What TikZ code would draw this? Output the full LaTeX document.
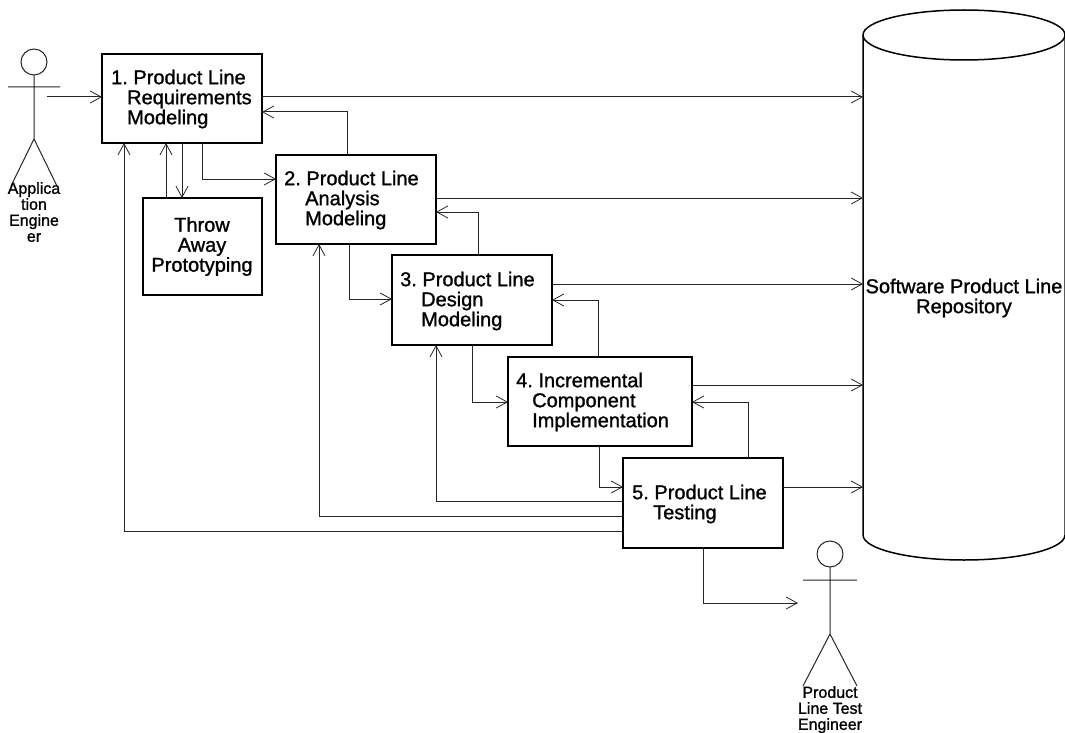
\documentclass[tikz,border=0pt]{standalone}
\usepackage{fontspec}
\setmainfont{Liberation Sans}
\newfontfamily\labelfont[FakeBold=1.2]{Liberation Sans}
\frenchspacing
\usetikzlibrary{arrows.meta}
\tikzset{
  x=1pt,y=-1pt,
  every node/.style={font=\labelfont\fontsize{20}{20}\selectfont},
  boxnode/.style={draw,line width=1.5pt,fill=white,inner sep=0pt,outer sep=0pt,anchor=north west},
  txt/.style={draw=none,inner sep=0pt,anchor=north west,align=left},
  link/.style={line width=1pt,draw=black!85,-{Straight Barb[length=11pt,width=12pt,line width=0.8pt]}},
  stick/.style={line width=1pt,draw=black!85},
  actorlabel/.style={inner sep=0pt,align=center,font=\labelfont\fontsize{16}{16}\selectfont}
}
\begin{document}
\begin{tikzpicture}
\useasboundingbox (0,0) rectangle (1065,733);
% repository
\draw[line width=1.5pt] (863,35) -- (863,535) arc[start angle=180,end angle=0,x radius=101,y radius=25] -- (1065,35);
\draw[line width=1.5pt,fill=white] (964,35) ellipse[x radius=101,y radius=25];
\coordinate (repo) at (863,0);
% boxes
\node[boxnode,minimum width=160pt,minimum height=89pt] (b1) at (102,54) {};
\node[boxnode,minimum width=119pt,minimum height=97pt] (tp) at (143,198) {};
\node[boxnode,minimum width=160pt,minimum height=89pt] (b2) at (276,155) {};
\node[boxnode,minimum width=160pt,minimum height=90pt] (b3) at (392,255) {};
\node[boxnode,minimum width=184pt,minimum height=89pt] (b4) at (508,357) {};
\node[boxnode,minimum width=160pt,minimum height=90pt] (b5) at (623,458) {};
% box texts
\node[txt] (t1) at (111,69.5) {1. Product Line\\\hspace*{16pt}Requirements\\\hspace*{16pt}Modeling};
\node[txt,align=center,anchor=north] (t0) at (202,217) {Throw\\Away\\Prototyping};
\node[txt] (t2) at (284,170.5) {2. Product Line\\\hspace*{21pt}Analysis\\\hspace*{21pt}Modeling};
\node[txt] (t3) at (400,271.5) {3. Product Line\\\hspace*{21pt}Design\\\hspace*{21pt}Modeling};
\node[txt] (t4) at (516,372.5) {4. Incremental\\\hspace*{16pt}Component\\\hspace*{16pt}Implementation};
\node[txt] (t5) at (632,484.5) {5. Product Line\\\hspace*{21pt}Testing};
\node[inner sep=0pt,align=center] (repol) at (964,298) {Software Product Line\\Repository};
% actor 1
\node[draw,circle,stick,minimum size=26pt,inner sep=0pt,outer sep=0pt] (h1) at (34,62) {};
\coordinate (a1l) at (8,87); \coordinate (a1r) at (60,87);
\coordinate (a1c) at (34,139); \coordinate (a1fl) at (11,186); \coordinate (a1fr) at (57,186);
\coordinate (a1out) at (47,97);
\draw[stick] (h1) -- (a1c) (a1l) -- (a1r) (a1fl) -- (a1c) -- (a1fr);
\node[actorlabel,anchor=north] (l1) at (34,182) {Applica\\tion\\Engine\\er};
% actor 2
\node[draw,circle,stick,minimum size=26pt,inner sep=0pt,outer sep=0pt] (h2) at (830,554) {};
\coordinate (a2l) at (803,580); \coordinate (a2r) at (857,580);
\coordinate (a2c) at (830,634); \coordinate (a2fl) at (803,686); \coordinate (a2fr) at (857,686);
\coordinate (a2in) at (798,603);
\draw[stick] (h2) -- (a2c) (a2l) -- (a2r) (a2fl) -- (a2c) -- (a2fr);
\node[actorlabel,anchor=north] (l2) at (830,686) {Product\\Line Test\\Engineer};
% connectors
\draw[link] (a1out) -- (a1out -| b1.west);
\draw[link] (b1.east |- 0,97) -- (repo |- 0,97);
\draw[link] (b2.east |- 0,198) -- (repo |- 0,198);
\draw[link] (b3.east |- 0,284) -- (repo |- 0,284);
\draw[link] (b4.east |- 0,385) -- (repo |- 0,385);
\draw[link] (b5.east |- 0,487) -- (repo |- 0,487);
\draw[link] (347,0 |- b2.north) -- (347,112) -- (b1.east |- 0,112);
\draw[link] (202,0 |- b1.south) -- (202,179) -- (b2.west |- 0,179);
\draw[link] (182,0 |- b1.south) -- (182,0 |- tp.north);
\draw[link] (166,0 |- tp.north) -- (166,0 |- b1.south);
\draw[link] (478,0 |- b3.north) -- (478,212) -- (b2.east |- 0,212);
\draw[link] (349,0 |- b2.south) -- (349,299) -- (b3.west |- 0,299);
\draw[link] (598,0 |- b4.north) -- (598,300) -- (b3.east |- 0,300);
\draw[link] (472,0 |- b3.south) -- (472,402) -- (b4.west |- 0,402);
\draw[link] (748,0 |- b5.north) -- (748,402) -- (b4.east |- 0,402);
\draw[link] (599,0 |- b4.south) -- (599,487) -- (b5.west |- 0,487);
\draw[link] (b5.west |- 0,501) -- (436,501) -- (436,0 |- b3.south);
\draw[link] (b5.west |- 0,516) -- (319,516) -- (319,0 |- b2.south);
\draw[link] (b5.west |- 0,531) -- (124,531) -- (124,0 |- b1.south);
\draw[link] (703,0 |- b5.south) -- (703,603) -- (a2in);
\end{tikzpicture}
\end{document}
